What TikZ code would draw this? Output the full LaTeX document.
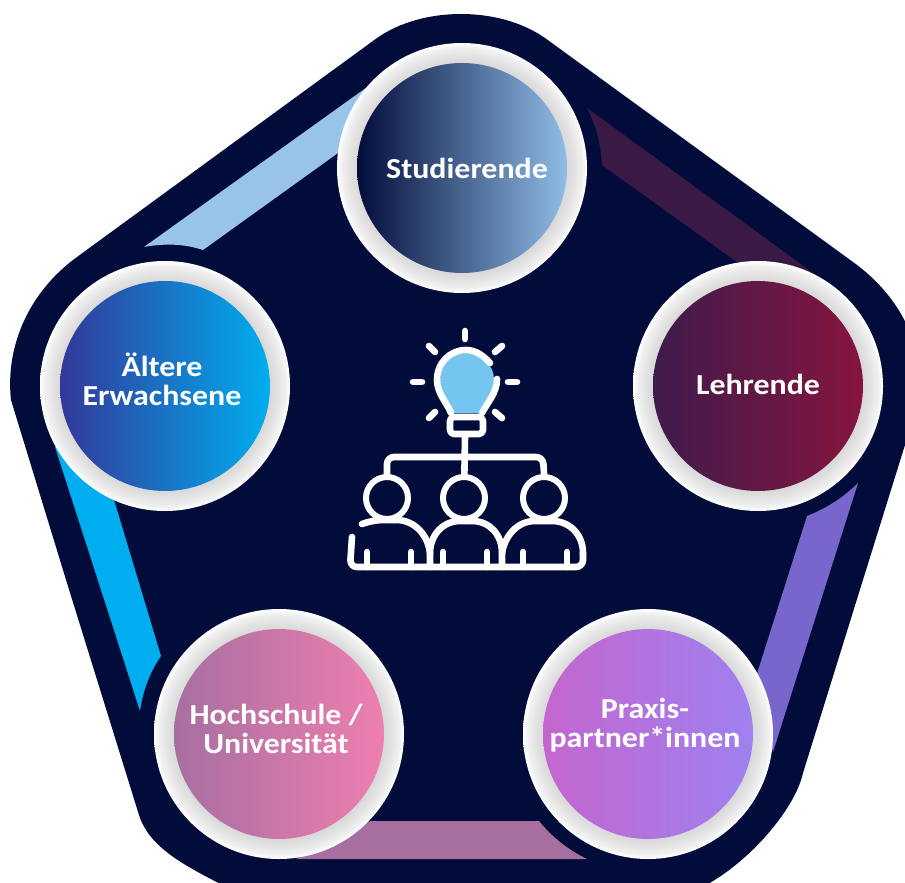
\documentclass[tikz,border=0pt]{standalone}
\usepackage{fontspec}
\setmainfont{Carlito}[FakeStretch=1.1]
\definecolor{backnavy}{HTML}{020C3B}
\definecolor{bulbblue}{HTML}{74C5F0}
\definecolor{bandsky}{HTML}{97C4E8}
\definecolor{bandplum}{HTML}{3A1A45}
\definecolor{bandviolet}{HTML}{7866CC}
\definecolor{bandmauve}{HTML}{A76FA0}
\definecolor{bandcyan}{HTML}{00AEEF}
\definecolor{studierendeend}{HTML}{8FBDE6}
\definecolor{lehrendestart}{HTML}{3F1B4B}
\definecolor{lehrendeend}{HTML}{86153F}
\definecolor{praxisstart}{HTML}{C466CE}
\definecolor{praxisend}{HTML}{9F80F0}
\definecolor{hochschuleend}{HTML}{EE7FB0}
\definecolor{aelterestart}{HTML}{33389A}
\pgfdeclareradialshading{ringshade}{\pgfpoint{0bp}{0bp}}{%
  color(0bp)=(black!15);color(21bp)=(black!15);color(22.5bp)=(black!11);
  color(24bp)=(black!6);color(24.7bp)=(black!2);color(25bp)=(white);color(50bp)=(white)}
\tikzset{
  ring/.style={circle,minimum size=250pt,inner sep=0pt,shade,shading=ringshade},
  disc/.style={circle,minimum size=210pt,inner sep=0pt},
  rolelabel/.style={align=center,text=white,font=\fontsize{29}{29}\selectfont\bfseries},
  icon/.style={draw=white,line width=6.6pt,line cap=round,line join=round},
  head/.style={draw=white,line width=6pt,circle,minimum size=42pt,inner sep=0pt}
}
\begin{document}
\begin{tikzpicture}[x=1pt,y=-1pt]
      \useasboundingbox (0,0) rectangle (905,883);
      \clip (0,0) rectangle (905,883);
      \fill[backnavy] (377,38) .. controls (400,22) and (430,14) .. (461,14)
        .. controls (492,14) and (522,22) .. (545,38)
        -- (853,262) .. controls (900,296) and (925,345) .. (919,400)
        -- (862,583) -- (803,773) .. controls (795,810) and (745,868) .. (696,890)
        -- (232,890) .. controls (190,868) and (150,850) .. (139,815)
        -- (67,583) -- (11,400) .. controls (5,345) and (30,291) .. (77,257) -- cycle;
      \fill[bandsky] (144,247) -- (370,85) -- (338,153) -- (203,250)
        .. controls (185,244) and (165,243) .. (144,247) -- cycle;
      \fill[bandplum] (587,108) -- (813,273) -- (737,262) -- (602,165)
        .. controls (601,145) and (596,125) .. (587,108) -- cycle;
      \fill[bandviolet] (858,483) -- (773,752) -- (755,680) -- (807,516)
        .. controls (825,509) and (843,498) .. (858,483) -- cycle;
      \fill[bandmauve] (371,821) -- (539,821) .. controls (551,836) and (568,850) .. (587,859)
        -- (296,859) -- cycle;
      \fill[bandcyan] (55,447) -- (140,711) .. controls (143,690) and (150,672) .. (161,656)
        -- (99,450) -- cycle;
      \node[ring] (studierendering) at (462,168) {};
      \node[ring] (lehrendering) at (758,386) {};
      \node[ring] (praxisring) at (648,734) {};
      \node[ring] (hochschulering) at (279,734) {};
      \node[ring] (aeltering) at (165,386) {};
      \node[disc,left color=backnavy,right color=studierendeend] (studierende) at (studierendering) {};
      \node[disc,left color=lehrendestart,right color=lehrendeend] (lehrende) at (lehrendering) {};
      \node[disc,left color=praxisstart,right color=praxisend] (praxis) at (praxisring) {};
      \node[disc,left color=bandmauve,middle color=bandmauve,right color=hochschuleend] (hochschule) at (hochschulering) {};
      \node[disc,left color=aelterestart,right color=bandcyan] (aeltere) at (aeltering) {};
      \node[rolelabel] (studierendetext) at (467,168) {Studierende};
      \node[rolelabel] (lehrendetext) at (758,384) {Lehrende};
      \node[rolelabel] (praxistext) at (645,725) {Praxis-\\partner*innen};
      \node[rolelabel] (hochschuletext) at (276,729) {Hochschule /\\Universität};
      \node[rolelabel] (aelteretext) at (162,379) {Ältere\\Erwachsene};
      \fill[bulbblue] (466,353) .. controls (452,353) and (440,365) .. (440,380)
        .. controls (440,393) and (449,403) .. (453,413) -- (480,413)
        .. controls (485,403) and (494,393) .. (494,379)
        .. controls (494,365) and (481,353) .. (466,353) -- cycle;
      \begin{scope}[icon]
        \draw (465,331) -- (465,339);
        \draw (413,382) -- (422,382);
        \draw (508,382) -- (517,382);
        \draw (429,346) -- (435,352);
        \draw (502,346) -- (495,352);
        \draw (429,418) -- (435,412);
        \draw (502,418) -- (495,412);
        \draw (490,363) .. controls (483,355) and (475,350) .. (466,350)
          .. controls (450,350) and (437,363) .. (437,380)
          .. controls (437,393) and (447,403) .. (451,413);
        \draw (497,379) .. controls (497,393) and (487,403) .. (482,413);
        \draw[rounded corners=4pt] (450,417) rectangle (483,434);
        \node[head] (headleft) at (387,498) {};
        \node[head] (headmiddle) at (464,498) {};
        \node[head] (headright) at (544,498) {};
        \coordinate (stemtop) at (465,437);
        \draw (stemtop) -- (headmiddle);
        \draw[rounded corners=7pt] (headleft.north) -- (387,457) -- (543,457) -- (headright.north);
        \draw[rounded corners=7pt] (352,537) -- (350,567) -- (583,567) -- (583,553);
        \draw (362,524) .. controls (370,521) and (378,520) .. (385,520) -- (398,520)
          .. controls (415,521) and (428,535) .. (430,553) -- (430,567);
        \draw (502,567) -- (502,553) .. controls (502,535) and (490,521) .. (472,521)
          -- (460,521) .. controls (443,521) and (430,535) .. (430,553);
        \draw (583,553) .. controls (583,535) and (570,521) .. (552,521)
          -- (535,521) .. controls (518,521) and (505,535) .. (502,553);
        \draw (367,552) -- (367,567);
        \draw (411,552) -- (411,567);
        \draw (443,552) -- (443,567);
        \draw (487,552) -- (487,567);
        \draw (523,552) -- (523,567);
        \draw (567,552) -- (567,567);
      \end{scope}
    \end{tikzpicture}
\end{document}
